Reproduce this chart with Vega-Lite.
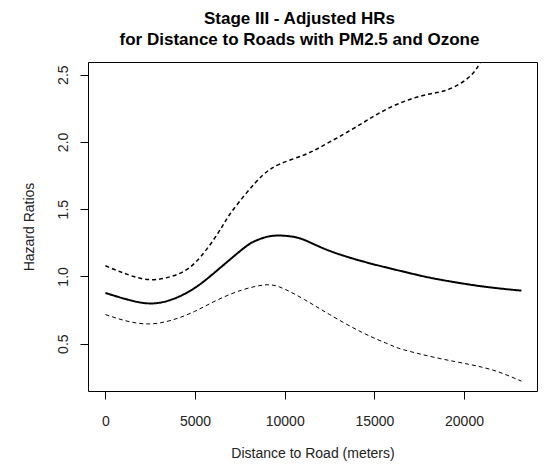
{
  "$schema": "https://vega.github.io/schema/vega-lite/v6.json",
  "autosize": {"type": "none"},
  "padding": {"left": 88, "top": 62, "right": 9, "bottom": 75},
  "width": 449,
  "height": 329,
  "background": "white",
  "title": {
    "text": ["Stage III - Adjusted HRs", "for Distance to Roads with PM2.5 and Ozone"],
    "font": "Liberation Sans",
    "fontSize": 17,
    "fontWeight": "bold",
    "color": "black",
    "lineHeight": 21,
    "anchor": "middle",
    "dx": -13,
    "offset": 13
  },
  "config": {
    "view": {"stroke": "black", "strokeWidth": 1},
    "axis": {
      "grid": false,
      "domain": false,
      "tickColor": "black",
      "tickSize": 8,
      "labelFont": "Liberation Sans",
      "labelFontSize": 14,
      "labelColor": "#222",
      "titleFont": "Liberation Sans",
      "titleFontSize": 14,
      "titleFontWeight": "normal",
      "titleColor": "#222"
    }
  },
  "data": {
    "values": [
      {"x": 0, "y": 0.877, "series": "fit"},
      {"x": 1260, "y": 0.827, "series": "fit"},
      {"x": 2470, "y": 0.799, "series": "fit"},
      {"x": 3680, "y": 0.827, "series": "fit"},
      {"x": 4980, "y": 0.914, "series": "fit"},
      {"x": 6280, "y": 1.05, "series": "fit"},
      {"x": 7670, "y": 1.205, "series": "fit"},
      {"x": 8330, "y": 1.262, "series": "fit"},
      {"x": 9000, "y": 1.294, "series": "fit"},
      {"x": 9720, "y": 1.304, "series": "fit"},
      {"x": 10400, "y": 1.296, "series": "fit"},
      {"x": 11110, "y": 1.27, "series": "fit"},
      {"x": 12510, "y": 1.19, "series": "fit"},
      {"x": 14370, "y": 1.111, "series": "fit"},
      {"x": 15860, "y": 1.06, "series": "fit"},
      {"x": 17200, "y": 1.017, "series": "fit"},
      {"x": 18460, "y": 0.981, "series": "fit"},
      {"x": 20320, "y": 0.939, "series": "fit"},
      {"x": 21800, "y": 0.913, "series": "fit"},
      {"x": 23200, "y": 0.894, "series": "fit"},
      {"x": 0, "y": 1.079, "series": "upper"},
      {"x": 1260, "y": 1.013, "series": "upper"},
      {"x": 2470, "y": 0.976, "series": "upper"},
      {"x": 3680, "y": 1.0, "series": "upper"},
      {"x": 4980, "y": 1.099, "series": "upper"},
      {"x": 6280, "y": 1.322, "series": "upper"},
      {"x": 6930, "y": 1.46, "series": "upper"},
      {"x": 7860, "y": 1.619, "series": "upper"},
      {"x": 8790, "y": 1.754, "series": "upper"},
      {"x": 9720, "y": 1.835, "series": "upper"},
      {"x": 11020, "y": 1.9, "series": "upper"},
      {"x": 12140, "y": 1.972, "series": "upper"},
      {"x": 14000, "y": 2.113, "series": "upper"},
      {"x": 15860, "y": 2.255, "series": "upper"},
      {"x": 17710, "y": 2.345, "series": "upper"},
      {"x": 19020, "y": 2.385, "series": "upper"},
      {"x": 20130, "y": 2.465, "series": "upper"},
      {"x": 20870, "y": 2.583, "series": "upper"},
      {"x": 21600, "y": 2.8, "series": "upper"},
      {"x": 22400, "y": 3.05, "series": "upper"},
      {"x": 23200, "y": 3.35, "series": "upper"},
      {"x": 0, "y": 0.716, "series": "lower"},
      {"x": 1260, "y": 0.666, "series": "lower"},
      {"x": 2470, "y": 0.647, "series": "lower"},
      {"x": 3680, "y": 0.674, "series": "lower"},
      {"x": 4980, "y": 0.74, "series": "lower"},
      {"x": 6280, "y": 0.827, "series": "lower"},
      {"x": 7670, "y": 0.901, "series": "lower"},
      {"x": 8790, "y": 0.935, "series": "lower"},
      {"x": 9720, "y": 0.921, "series": "lower"},
      {"x": 11110, "y": 0.827, "series": "lower"},
      {"x": 12510, "y": 0.716, "series": "lower"},
      {"x": 14370, "y": 0.58, "series": "lower"},
      {"x": 15760, "y": 0.498, "series": "lower"},
      {"x": 16600, "y": 0.456, "series": "lower"},
      {"x": 18460, "y": 0.395, "series": "lower"},
      {"x": 20320, "y": 0.345, "series": "lower"},
      {"x": 21810, "y": 0.295, "series": "lower"},
      {"x": 23200, "y": 0.221, "series": "lower"}
    ]
  },
  "mark": {"type": "line", "clip": true, "color": "black", "interpolate": "natural"},
  "encoding": {
    "x": {
      "field": "x",
      "type": "quantitative",
      "scale": {"domain": [-970, 24070], "nice": false, "zero": false},
      "axis": {
        "values": [0, 5000, 10000, 15000, 20000],
        "format": "d",
        "labelPadding": 15,
        "title": "Distance to Road (meters)",
        "titlePadding": 18
      }
    },
    "y": {
      "field": "y",
      "type": "quantitative",
      "scale": {"domain": [0.148, 2.594], "nice": false, "zero": false},
      "axis": {
        "values": [0.5, 1.0, 1.5, 2.0, 2.5],
        "format": ".1f",
        "labelAngle": 270,
        "labelAlign": "center",
        "labelBaseline": "bottom",
        "labelPadding": 10,
        "title": "Hazard Ratios",
        "titlePadding": 20
      }
    },
    "detail": {"field": "series"},
    "strokeDash": {
      "field": "series",
      "type": "nominal",
      "scale": {"domain": ["fit", "upper", "lower"], "range": [[1, 0], [4, 3], [4, 3]]},
      "legend": null
    },
    "strokeWidth": {
      "field": "series",
      "type": "nominal",
      "scale": {"domain": ["fit", "upper", "lower"], "range": [2, 1, 1]},
      "legend": null
    }
  }
}
